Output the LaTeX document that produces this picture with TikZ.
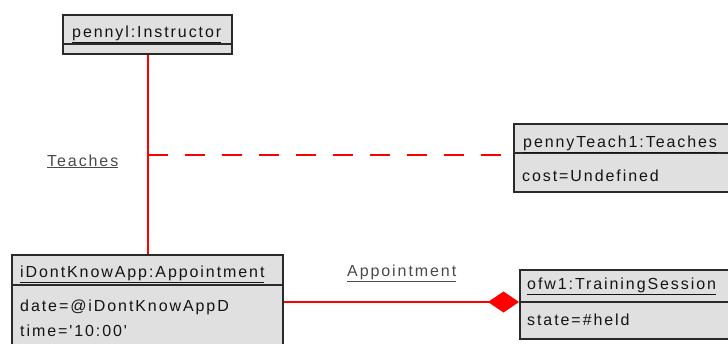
\documentclass[tikz,border=0pt]{standalone}
\usepackage{fontspec}
\setmainfont{Liberation Sans}[LetterSpace=12, Ligatures=TeXOff]
\usetikzlibrary{arrows.meta}
\definecolor{boxfill}{HTML}{E0E0E0}
\definecolor{boxline}{HTML}{2A2A2A}
\definecolor{labelgray}{HTML}{4A4A4A}
\definecolor{txt}{HTML}{141414}
\definecolor{linkred}{HTML}{FF0000}
\tikzset{
  objbox/.style={draw=boxline, fill=boxfill, line width=1.7pt, inner sep=0pt, anchor=north west},
  divider/.style={draw=boxline, line width=1.5pt},
  objtext/.style={anchor=base west, inner sep=0pt, text=txt, font=\fontsize{16}{19}\selectfont},
  linklabel/.style={anchor=base west, inner sep=0pt, text=labelgray, font=\fontsize{16}{19}\selectfont},
  assoc/.style={draw=linkred, line width=1.6pt},
  dashassoc/.style={assoc, dash pattern=on 20pt off 17pt}
}
\begin{document}
\begin{tikzpicture}[x=1pt, y=-1pt]
\useasboundingbox (0,0) rectangle (728,343);

% object boxes
\node[objbox, minimum width=169pt, minimum height=39pt] (instr) at (62,14) {};
\node[objbox, minimum width=250pt, minimum height=68pt] (teach) at (513,123) {};
\node[objbox, minimum width=271pt, minimum height=110pt] (app) at (11,254) {};
\node[objbox, minimum width=245pt, minimum height=69pt] (train) at (519,269) {};

% compartment dividers
\draw[divider] ([yshift=-30pt]instr.north west) -- ([yshift=-30pt]instr.north east);
\draw[divider] ([yshift=-30pt]teach.north west) -- ([yshift=-30pt]teach.north east);
\draw[divider] ([yshift=-31pt]app.north west) -- ([yshift=-31pt]app.north east);
\draw[divider] ([yshift=-33pt]train.north west) -- ([yshift=-33pt]train.north east);

% object names and attributes
\node[objtext] (instrname) at (72,37) {\underline{pennyl:Instructor}};
\node[objtext] (teachname) at (523,147) {\underline{pennyTeach1:Teaches}};
\node[objtext] (teachcost) at (522,181) {cost=Undefined};
\node[objtext] (appname) at (20,277) {\underline{iDontKnowApp:Appointment}};
\node[objtext] (appdate) at (20,311) {date=@iDontKnowAppD};
\node[objtext] (apptime) at (20,336) {time='10:00'};
\node[objtext] (trainname) at (527,289) {\underline{ofw1:TrainingSession}};
\node[objtext] (trainstate) at (527,325) {state=\#held};

% link labels
\node[linklabel] (teacheslbl) at (47,166) {\underline{Teaches}};
\node[linklabel] (applbl) at (347,276) {\underline{Appointment}};

% connectors
\coordinate (instrLink) at ([xshift=0.5pt]instr.south);
\coordinate (teachL) at ([yshift=-32pt]teach.north west);
\coordinate (trainL) at ([yshift=-33pt]train.north west);
\draw[assoc] (instrLink) -- (instrLink |- app.north);
\draw[dashassoc] (instrLink |- teachL) -- (teachL);
\draw[assoc, -{Diamond[length=31pt, width=21pt, fill=linkred, sharp]}] (app.east |- trainL) -- (trainL);
\end{tikzpicture}
\end{document}
